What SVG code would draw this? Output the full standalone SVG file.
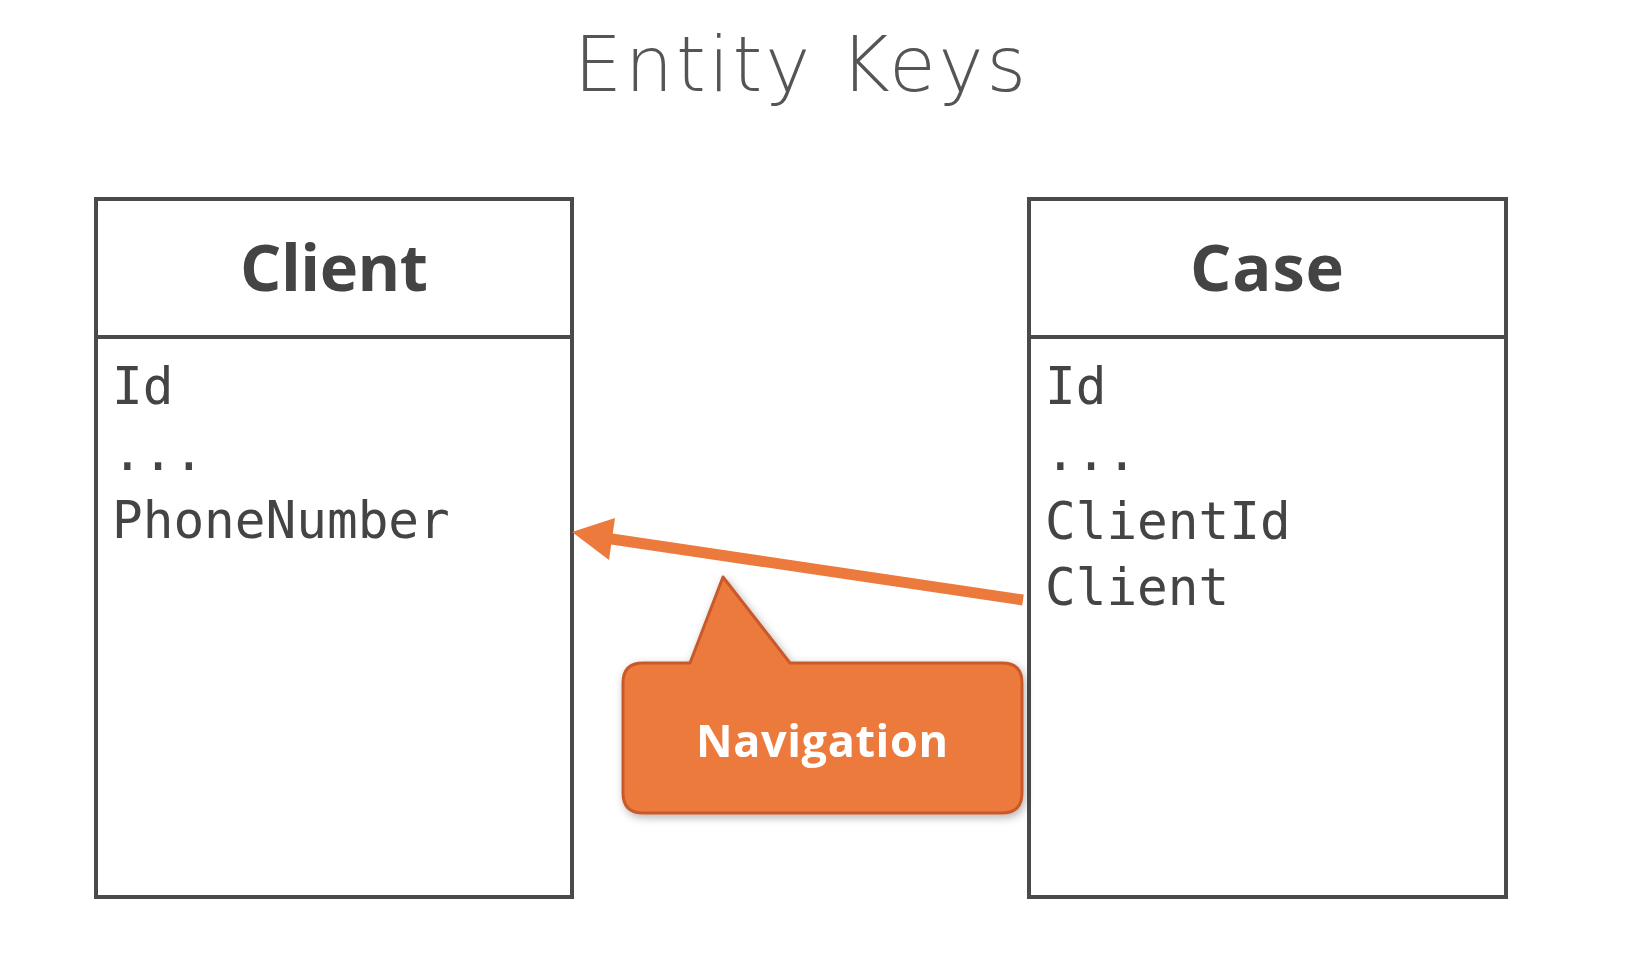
<svg xmlns="http://www.w3.org/2000/svg" width="1626" height="956" viewBox="0 0 1626 956">
<style>
.box{fill:#fff;stroke:#4a4a4a;stroke-width:4}
.div{stroke:#4a4a4a;stroke-width:4}
.hdr{font-family:"Open Sans","Liberation Sans",sans-serif;font-weight:700;font-size:65px;fill:#444;text-anchor:middle}
.fld{font-family:"DejaVu Sans Mono","Liberation Mono",monospace;font-size:51px;fill:#444}
.title{font-family:"DejaVu Sans","Open Sans",sans-serif;font-weight:200;font-size:76px;fill:#555;text-anchor:middle;font-variant-ligatures:none}
.nav{font-family:"Open Sans","Liberation Sans",sans-serif;font-weight:700;font-size:45px;fill:#fff;text-anchor:middle}
</style>
<defs>
<filter id="sh" x="-20%" y="-20%" width="140%" height="140%">
<feDropShadow dx="2" dy="3" stdDeviation="4" flood-color="#000" flood-opacity="0.3"/>
</filter>
</defs>
<rect width="1626" height="956" fill="#fff"/>
<text class="title" x="800" y="91" textLength="452" lengthAdjust="spacing">Entity Keys</text>
<g id="client">
<rect class="box" x="96" y="199" width="476" height="698"/>
<line class="div" x1="96" y1="337" x2="572" y2="337"/>
<text class="hdr" x="334" y="291" textLength="188">Client</text>
<text class="fld" x="112" y="404">Id</text>
<text class="fld" x="112" y="470">...</text>
<text class="fld" x="112" y="538">PhoneNumber</text>
</g>
<g id="case">
<rect class="box" x="1029" y="199" width="477" height="698"/>
<line class="div" x1="1029" y1="337" x2="1506" y2="337"/>
<text class="hdr" x="1267" y="291" textLength="154">Case</text>
<text class="fld" x="1045" y="404">Id</text>
<text class="fld" x="1045" y="470">...</text>
<text class="fld" x="1045" y="539">ClientId</text>
<text class="fld" x="1045" y="605">Client</text>
</g>
<g id="connectors">
<line x1="1023" y1="600" x2="605" y2="538" stroke="#ec7a3c" stroke-width="11"/>
<polygon points="572,532 615,518 609,560" fill="#ec7a3c"/>
</g>
<g id="navigation" filter="url(#sh)">
<path d="M643,663 H690 L723,577 L790,663 H1002 Q1022,663 1022,683 V793 Q1022,813 1002,813 H643 Q623,813 623,793 V683 Q623,663 643,663 Z" fill="#ec7a3c" stroke="#c9592a" stroke-width="3" stroke-linejoin="round"/>
<text class="nav" x="822" y="757" textLength="252">Navigation</text>
</g>
</svg>
